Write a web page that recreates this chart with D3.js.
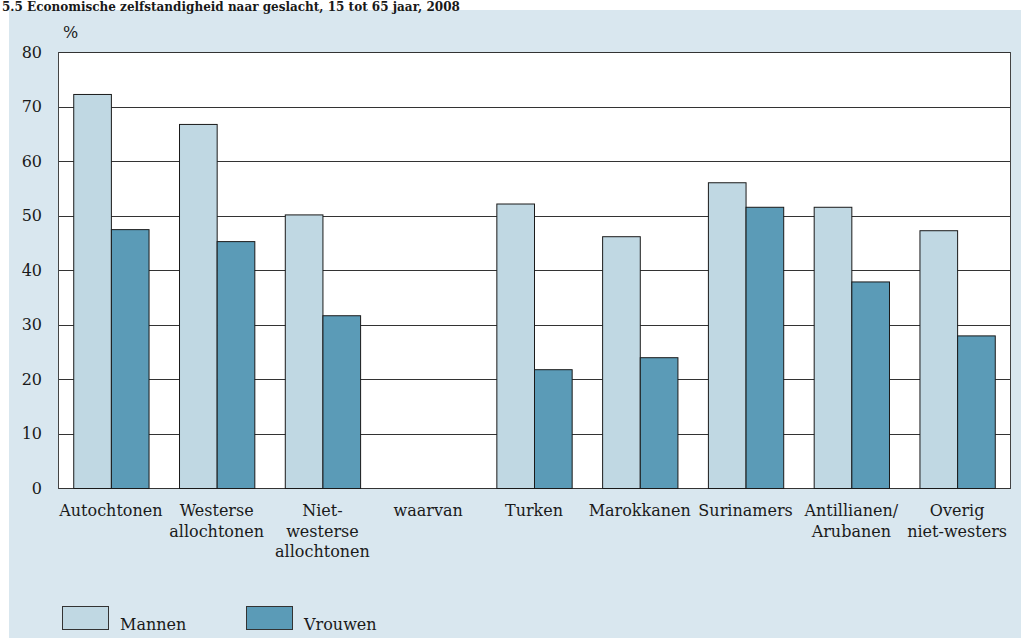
<!DOCTYPE html>
<html>
<head>
<meta charset="utf-8">
<script src="https://cdn.jsdelivr.net/npm/d3@7"></script>
<style>
  html, body { margin: 0; padding: 0; background: #ffffff; }
  svg { display: block; }
  text { font-family: "DejaVu Serif", serif; fill: #1a1a1a; }
</style>
</head>
<body>
<svg id="chart" width="1021" height="638"></svg>
<script>
// ---- data ----
const categories = [
  ["Autochtonen"],
  ["Westerse", "allochtonen"],
  ["Niet-", "westerse", "allochtonen"],
  ["waarvan"],
  ["Turken"],
  ["Marokkanen"],
  ["Surinamers"],
  ["Antillianen/", "Arubanen"],
  ["Overig", "niet-westers"]
];
const categoryKeys = ["Autochtonen", "Westerse allochtonen", "Niet-westerse allochtonen", "waarvan",
  "Turken", "Marokkanen", "Surinamers", "Antillianen/Arubanen", "Overig niet-westers"];
const seriesNames = ["Mannen", "Vrouwen"];
const mannen  = [72.3, 66.8, 50.2, null, 52.2, 46.2, 56.1, 51.6, 47.3];
const vrouwen = [47.5, 45.3, 31.7, null, 21.8, 24.0, 51.6, 37.9, 28.0];
const yTicks = [0, 10, 20, 30, 40, 50, 60, 70, 80];
const title = "5.5 Economische zelfstandigheid naar geslacht, 15 tot 65 jaar, 2008";
const unitLabel = "%";

// ---- layout ----
const colors = { Mannen: "#c0d8e3", Vrouwen: "#5b9bb7" };
const svg = d3.select("#chart");
const plot = { left: 58, right: 1010, top: 52, bottom: 488 };

// panel background
svg.append("rect").attr("x", 9).attr("y", 10).attr("width", 1021 - 9).attr("height", 638 - 10)
  .attr("fill", "#d9e7ef");

// title
svg.append("text").attr("x", 2).attr("y", 10.5)
  .attr("font-family", "Liberation Serif, serif").attr("font-weight", "bold")
  .attr("font-size", 12).text(title);

// plot area
svg.append("rect").attr("x", plot.left).attr("y", plot.top)
  .attr("width", plot.right - plot.left).attr("height", plot.bottom - plot.top)
  .attr("fill", "#ffffff");

const x0 = d3.scaleBand().domain(categoryKeys).range([plot.left, plot.right])
  .paddingInner(0.288).paddingOuter(0.144);
const x1 = d3.scaleBand().domain(seriesNames).range([0, x0.bandwidth()]).padding(0);
const y = d3.scaleLinear().domain([0, 80]).range([plot.bottom, plot.top]);

// gridlines
svg.append("g").selectAll("line").data(yTicks).join("line")
  .attr("x1", plot.left).attr("x2", plot.right)
  .attr("y1", d => Math.round(y(d)) + 0.5).attr("y2", d => Math.round(y(d)) + 0.5)
  .attr("stroke", "#333").attr("stroke-width", 1);

// frame sides
[plot.left, plot.right].forEach(xx => {
  svg.append("line").attr("x1", xx + 0.5).attr("x2", xx + 0.5)
    .attr("y1", plot.top).attr("y2", plot.bottom + 1)
    .attr("stroke", "#444").attr("stroke-width", 1);
});

// y axis labels
const yAxis = d3.axisLeft(y).tickValues(yTicks).tickSize(0).tickPadding(16);
const gy = svg.append("g").attr("transform", `translate(${plot.left},0)`).call(yAxis);
gy.select(".domain").remove();
gy.selectAll("text").attr("font-family", "DejaVu Serif, serif").attr("font-size", 16)
  .attr("fill", "#1a1a1a");

svg.append("text").attr("x", 63).attr("y", 38).attr("font-size", 16).text(unitLabel);

// bars
const rows = categoryKeys.map((k, i) => ({ key: k, Mannen: mannen[i], Vrouwen: vrouwen[i] }));
const groups = svg.append("g").selectAll("g").data(rows).join("g")
  .attr("transform", d => `translate(${x0(d.key)},0)`);
groups.selectAll("rect")
  .data(d => seriesNames.filter(s => d[s] != null).map(s => ({ s, v: d[s] })))
  .join("rect")
  .attr("x", d => x1(d.s) + 0.5)
  .attr("y", d => y(d.v) + 0.5)
  .attr("width", x1.bandwidth())
  .attr("height", d => y(0) - y(d.v))
  .attr("fill", d => colors[d.s])
  .attr("stroke", "#1a1a1a").attr("stroke-width", 1);

// x labels
const xl = svg.append("g").selectAll("text").data(categories).join("text")
  .attr("x", (d, i) => x0(categoryKeys[i]) + x0.bandwidth() / 2)
  .attr("y", 516).attr("text-anchor", "middle").attr("font-size", 16);
xl.selectAll("tspan").data(d => d).join("tspan")
  .attr("x", function () { return d3.select(this.parentNode).attr("x"); })
  .attr("dy", (d, i) => i === 0 ? 0 : 20.5)
  .text(d => d);

// legend
const legendX = [62, 246];
seriesNames.forEach((s, i) => {
  svg.append("rect").attr("x", legendX[i] + 0.5).attr("y", 606.5).attr("width", 46).attr("height", 23)
    .attr("fill", colors[s]).attr("stroke", "#333").attr("stroke-width", 1);
  svg.append("text").attr("x", legendX[i] + 58).attr("y", 630).attr("font-size", 16).text(s);
});
</script>
</body>
</html>
